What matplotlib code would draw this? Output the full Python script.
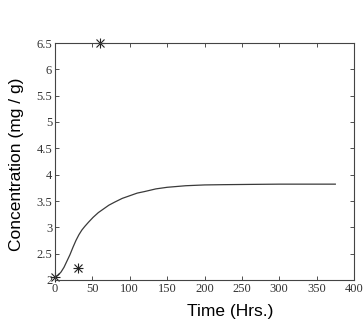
import matplotlib
matplotlib.use("Agg")
import matplotlib.pyplot as plt

# data
curve_t = [0, 4, 8, 12, 16, 20, 24, 28, 32, 36, 40, 45, 51, 58, 65, 72, 80, 90, 100, 110, 120, 135, 150, 175, 200, 225, 260, 300, 340, 375]
curve_c = [2.06, 2.09, 2.15, 2.24, 2.36, 2.48, 2.62, 2.75, 2.86, 2.95, 3.02, 3.1, 3.19, 3.28, 3.35, 3.42, 3.48, 3.55, 3.6, 3.65, 3.68, 3.73, 3.76, 3.79, 3.805, 3.81, 3.815, 3.82, 3.82, 3.82]
obs_t = [0, 31, 60]
obs_c = [2.05, 2.22, 6.5]
xticks = [0, 50, 100, 150, 200, 250, 300, 350, 400]
yticks = [2, 2.5, 3, 3.5, 4, 4.5, 5, 5.5, 6, 6.5]
ytick_labels = ["2", "2.5", "3", "3.5", "4", "4.5", "5", "5.5", "6", "6.5"]

fig = plt.figure(figsize=(3.63, 3.24), dpi=100)
ax = fig.add_axes([55/363, 44/324, 299/363, 237/324])

ax.plot(curve_t, curve_c, color="#3a3a3a", lw=0.9)
ax.plot(obs_t, obs_c, linestyle="none", marker="+", ms=7, mew=0.8, color="#222222", clip_on=False)
ax.plot(obs_t, obs_c, linestyle="none", marker="x", ms=5.5, mew=0.8, color="#222222", clip_on=False)

ax.set_xlim(0, 400)
ax.set_ylim(2, 6.5)
ax.set_xticks(xticks)
ax.set_yticks(yticks)
ax.set_yticklabels(ytick_labels)
ax.tick_params(direction="in", length=3, width=0.6, top=True, right=True,
               labelsize=9, colors="#333333", pad=2)
for lab in ax.get_xticklabels() + ax.get_yticklabels():
    lab.set_family("Liberation Serif")
for s in ax.spines.values():
    s.set_linewidth(0.8)
    s.set_color("#444444")

ax.set_xlabel("Time (Hrs.)", family="Liberation Sans", fontsize=12.5)
ax.set_ylabel("Concentration (mg / g)", family="Liberation Sans", fontsize=12.5)
ax.xaxis.set_label_coords(0.585, -0.1)
ax.yaxis.set_label_coords(-0.105, 0.49)

fig.savefig("out.png", dpi=100)
